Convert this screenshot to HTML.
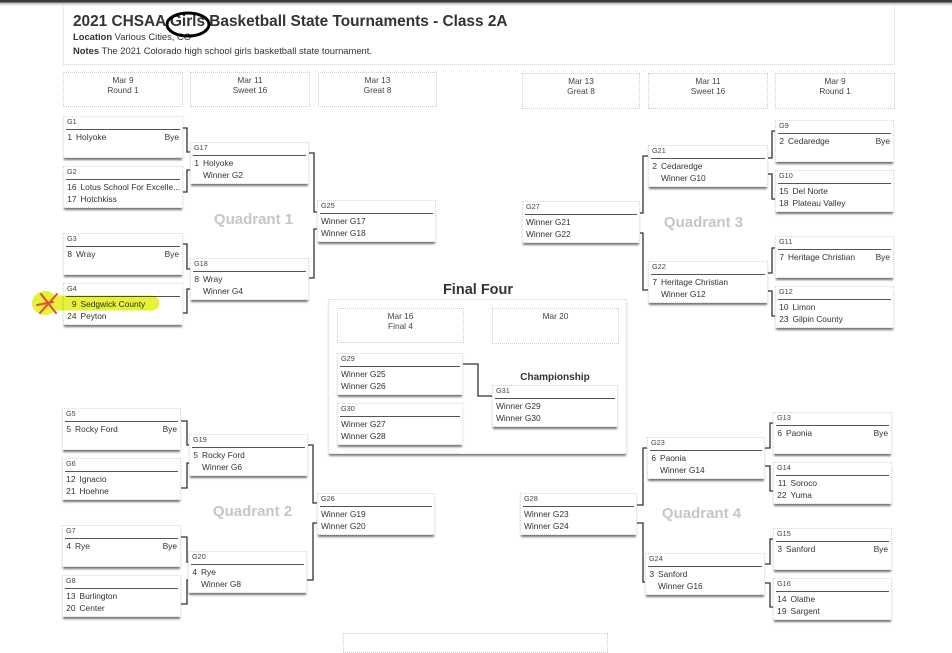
<!DOCTYPE html>
<html>
<head>
<meta charset="utf-8">
<style>
html,body{margin:0;padding:0}
body{width:952px;height:640px;position:relative;overflow:hidden;background:#fff;font-family:"Liberation Sans",Arial,sans-serif;color:#333}
.topbar{position:absolute;left:0;top:0;width:952px;height:6px;background:linear-gradient(#3a3a3a 0,#3a3a3a 2px,#bbb 3px,#fff 6px)}
.hdr{position:absolute;left:63px;top:6px;width:832px;height:59px;border-left:1px dotted #d6d6d6;border-right:1px dotted #d6d6d6;border-bottom:1px dotted #d0d0d0;box-sizing:border-box}
.title{position:absolute;left:73px;top:13.2px;font-size:15.4px;line-height:18px;font-weight:bold;color:#333;white-space:nowrap}
.meta{position:absolute;left:73px;font-size:9.4px;line-height:11px;color:#333;white-space:nowrap}
.meta b{font-weight:bold}
.rh{position:absolute;border:1px dotted #ccc;box-sizing:border-box;text-align:center;font-size:8.3px;line-height:10px;padding-top:2px;color:#444;background:#fff}
.b{position:absolute;height:42px;background:#fff;border:1px dotted #d8d8d8;box-sizing:border-box;box-shadow:0 3px 2px -1px rgba(0,0,0,.55)}
.b .l{position:absolute;left:3px;top:0;font-size:7.3px;line-height:10px;color:#444}
.b .u{position:absolute;left:2px;right:2px;top:11.5px;height:0;border-top:1.4px solid #555}
.b .r{position:absolute;left:3px;right:3px;height:11px;line-height:11px;font-size:8.4px;white-space:nowrap;color:#333}
.b .r1{top:15px}
.b .r2{top:27px}
.s{display:inline-block;width:5px;text-align:right;margin-right:4px}
.w .s{width:9.5px}
.bye{position:absolute;right:0;top:0}
.q{position:absolute;width:120px;text-align:center;font-size:15px;line-height:18px;font-weight:bold;color:#c6c6c6;white-space:nowrap}
.ff{position:absolute;left:328px;top:299px;width:299px;height:155px;border:1px dotted #d0d0d0;box-sizing:border-box;box-shadow:0 3px 2px -1px rgba(0,0,0,.5);background:#fff}
.fft{position:absolute;left:418px;top:281.5px;width:120px;text-align:center;font-size:14.5px;line-height:17px;font-weight:bold;color:#333}
.champ{position:absolute;left:495px;top:371.5px;width:120px;text-align:center;font-size:10px;line-height:12px;font-weight:bold;color:#333}
svg{position:absolute;left:0;top:0}
</style>
</head>
<body>
<div class="topbar"></div>
<div class="hdr"></div>
<div class="title">2021 CHSAA Girls Basketball State Tournaments - Class 2A</div>
<div class="meta" style="top:31.4px"><b>Location</b> Various Cities, CO</div>
<div class="meta" style="top:45.4px"><b>Notes</b> The 2021 Colorado high school girls basketball state tournament.</div>

<!-- round headers -->
<div class="rh" style="left:63px;top:72px;width:120px;height:35px">Mar 9<br>Round 1</div>
<div class="rh" style="left:190px;top:72px;width:120px;height:35px">Mar 11<br>Sweet 16</div>
<div class="rh" style="left:318px;top:72px;width:119px;height:35px">Mar 13<br>Great 8</div>
<div class="rh" style="left:522px;top:73px;width:118px;height:36px">Mar 13<br>Great 8</div>
<div class="rh" style="left:648px;top:73px;width:120px;height:36px">Mar 11<br>Sweet 16</div>
<div class="rh" style="left:775px;top:73px;width:120px;height:36px">Mar 9<br>Round 1</div>

<!-- quadrant labels -->
<div class="q" style="left:193.5px;top:211.2px">Quadrant 1</div>
<div class="q" style="left:192.5px;top:503.2px">Quadrant 2</div>
<div class="q" style="left:643.5px;top:214.2px">Quadrant 3</div>
<div class="q" style="left:641.5px;top:505.2px">Quadrant 4</div>

<!-- final four container -->
<div class="fft">Final Four</div>
<div class="ff"></div>
<div class="rh" style="left:337px;top:308px;width:127px;height:35px">Mar 16<br>Final 4</div>
<div class="rh" style="left:492px;top:308px;width:127px;height:36px">Mar 20</div>
<div class="champ">Championship</div>

<!-- bottom partial box -->
<div class="rh" style="left:343px;top:633px;width:265px;height:20px"></div>

<!-- connectors -->
<svg width="952" height="640" viewBox="0 0 952 640">
<g fill="none" stroke="#333" stroke-width="1.3">
<path d="M183,128H187V152H190"/>
<path d="M183,192H187V170H190"/>
<path d="M183,244H187V269H190"/>
<path d="M183,313H187V289H190"/>
<path d="M181,421H187V445H189"/>
<path d="M181,488H187V463H189"/>
<path d="M181,537H187V562H188"/>
<path d="M181,604H187V580H188"/>
<path d="M309,153H314V212H317"/>
<path d="M309,278H314V229H317"/>
<path d="M308,445H313V503H317"/>
<path d="M307,580H313V523H317"/>
<path d="M775,131H772V158H768"/>
<path d="M775,199H772V174H768"/>
<path d="M775,248H772V273H768"/>
<path d="M775,316H772V291H768"/>
<path d="M773,423H770V448H765"/>
<path d="M773,491H770V466H765"/>
<path d="M773,539H770V564H765"/>
<path d="M773,607H770V583H765"/>
<path d="M648,156H643V213H640"/>
<path d="M648,290H643V233H640"/>
<path d="M647,448H643V505H637"/>
<path d="M645,582H643V523H637"/>
<path d="M463,364H478V396H492"/>
</g>
</svg>

<!-- Left top -->
<div class="b" style="left:63px;top:116px;width:120px"><div class="l">G1</div><div class="u"></div><div class="r r1"><span class="s">1</span>Holyoke<span class="bye">Bye</span></div></div>
<div class="b w" style="left:63px;top:166px;width:120px"><div class="l">G2</div><div class="u"></div><div class="r r1"><span class="s">16</span>Lotus School For Excelle...</div><div class="r r2"><span class="s">17</span>Hotchkiss</div></div>
<div class="b" style="left:63px;top:233px;width:120px"><div class="l">G3</div><div class="u"></div><div class="r r1"><span class="s">8</span>Wray<span class="bye">Bye</span></div></div>
<div class="b w" style="left:63px;top:283px;width:120px"><div class="l">G4</div><div class="u"></div><div class="r r1"><span class="s">9</span>Sedgwick County</div><div class="r r2"><span class="s">24</span>Peyton</div></div>

<div class="b" style="left:190px;top:142px;width:119px"><div class="l">G17</div><div class="u"></div><div class="r r1"><span class="s">1</span>Holyoke</div><div class="r r2"><span class="s"></span>Winner G2</div></div>
<div class="b" style="left:190px;top:258px;width:119px"><div class="l">G18</div><div class="u"></div><div class="r r1"><span class="s">8</span>Wray</div><div class="r r2"><span class="s"></span>Winner G4</div></div>
<div class="b" style="left:317px;top:200px;width:119px"><div class="l">G25</div><div class="u"></div><div class="r r1">Winner G17</div><div class="r r2">Winner G18</div></div>

<!-- Left bottom -->
<div class="b" style="left:62px;top:408px;width:119px"><div class="l">G5</div><div class="u"></div><div class="r r1"><span class="s">5</span>Rocky Ford<span class="bye">Bye</span></div></div>
<div class="b w" style="left:62px;top:458px;width:119px"><div class="l">G6</div><div class="u"></div><div class="r r1"><span class="s">12</span>Ignacio</div><div class="r r2"><span class="s">21</span>Hoehne</div></div>
<div class="b" style="left:62px;top:525px;width:119px"><div class="l">G7</div><div class="u"></div><div class="r r1"><span class="s">4</span>Rye<span class="bye">Bye</span></div></div>
<div class="b w" style="left:62px;top:575px;width:119px"><div class="l">G8</div><div class="u"></div><div class="r r1"><span class="s">13</span>Burlington</div><div class="r r2"><span class="s">20</span>Center</div></div>

<div class="b" style="left:189px;top:434px;width:119px"><div class="l">G19</div><div class="u"></div><div class="r r1"><span class="s">5</span>Rocky Ford</div><div class="r r2"><span class="s"></span>Winner G6</div></div>
<div class="b" style="left:188px;top:551px;width:119px"><div class="l">G20</div><div class="u"></div><div class="r r1"><span class="s">4</span>Rye</div><div class="r r2"><span class="s"></span>Winner G8</div></div>
<div class="b" style="left:317px;top:493px;width:118px"><div class="l">G26</div><div class="u"></div><div class="r r1">Winner G19</div><div class="r r2">Winner G20</div></div>

<!-- Right top -->
<div class="b" style="left:775px;top:120px;width:119px"><div class="l">G9</div><div class="u"></div><div class="r r1"><span class="s">2</span>Cedaredge<span class="bye">Bye</span></div></div>
<div class="b w" style="left:775px;top:170px;width:119px"><div class="l">G10</div><div class="u"></div><div class="r r1"><span class="s">15</span>Del Norte</div><div class="r r2"><span class="s">18</span>Plateau Valley</div></div>
<div class="b" style="left:775px;top:236px;width:119px"><div class="l">G11</div><div class="u"></div><div class="r r1"><span class="s">7</span>Heritage Christian<span class="bye">Bye</span></div></div>
<div class="b w" style="left:775px;top:286px;width:119px"><div class="l">G12</div><div class="u"></div><div class="r r1"><span class="s">10</span>Limon</div><div class="r r2"><span class="s">23</span>Gilpin County</div></div>

<div class="b" style="left:648px;top:145px;width:120px"><div class="l">G21</div><div class="u"></div><div class="r r1"><span class="s">2</span>Cedaredge</div><div class="r r2"><span class="s"></span>Winner G10</div></div>
<div class="b" style="left:648px;top:261px;width:120px"><div class="l">G22</div><div class="u"></div><div class="r r1"><span class="s">7</span>Heritage Christian</div><div class="r r2"><span class="s"></span>Winner G12</div></div>
<div class="b" style="left:522px;top:201px;width:118px"><div class="l">G27</div><div class="u"></div><div class="r r1">Winner G21</div><div class="r r2">Winner G22</div></div>

<!-- Right bottom -->
<div class="b" style="left:773px;top:412px;width:119px"><div class="l">G13</div><div class="u"></div><div class="r r1"><span class="s">6</span>Paonia<span class="bye">Bye</span></div></div>
<div class="b w" style="left:773px;top:462px;width:119px"><div class="l">G14</div><div class="u"></div><div class="r r1"><span class="s">11</span>Soroco</div><div class="r r2"><span class="s">22</span>Yuma</div></div>
<div class="b" style="left:773px;top:528px;width:119px"><div class="l">G15</div><div class="u"></div><div class="r r1"><span class="s">3</span>Sanford<span class="bye">Bye</span></div></div>
<div class="b w" style="left:773px;top:578px;width:119px"><div class="l">G16</div><div class="u"></div><div class="r r1"><span class="s">14</span>Olathe</div><div class="r r2"><span class="s">19</span>Sargent</div></div>

<div class="b" style="left:647px;top:437px;width:118px"><div class="l">G23</div><div class="u"></div><div class="r r1"><span class="s">6</span>Paonia</div><div class="r r2"><span class="s"></span>Winner G14</div></div>
<div class="b" style="left:645px;top:553px;width:120px"><div class="l">G24</div><div class="u"></div><div class="r r1"><span class="s">3</span>Sanford</div><div class="r r2"><span class="s"></span>Winner G16</div></div>
<div class="b" style="left:520px;top:493px;width:117px"><div class="l">G28</div><div class="u"></div><div class="r r1">Winner G23</div><div class="r r2">Winner G24</div></div>

<!-- Final four games -->
<div class="b" style="left:337px;top:353px;width:126px"><div class="l">G29</div><div class="u"></div><div class="r r1">Winner G25</div><div class="r r2">Winner G26</div></div>
<div class="b" style="left:337px;top:403px;width:126px"><div class="l">G30</div><div class="u"></div><div class="r r1">Winner G27</div><div class="r r2">Winner G28</div></div>
<div class="b" style="left:492px;top:385px;width:126px"><div class="l">G31</div><div class="u"></div><div class="r r1">Winner G29</div><div class="r r2">Winner G30</div></div>

<!-- annotations -->
<svg width="952" height="640" viewBox="0 0 952 640" style="mix-blend-mode:multiply">
<ellipse cx="45" cy="303" rx="13" ry="12" fill="#e6f23a"/>
<path d="M42,303 L152,303" stroke="#e6f23a" stroke-width="15" stroke-linecap="round" fill="none"/>
<g stroke="#e8483a" stroke-width="2" stroke-linecap="round" fill="none">
<path d="M41,294 L56,313"/>
<path d="M40,313 L57,294"/>
<path d="M37,305 L53,302"/>
</g>
</svg>
<svg width="952" height="640" viewBox="0 0 952 640">
<ellipse cx="188" cy="24.5" rx="21" ry="11.5" fill="none" stroke="#000" stroke-width="3"/>
</svg>
</body>
</html>
